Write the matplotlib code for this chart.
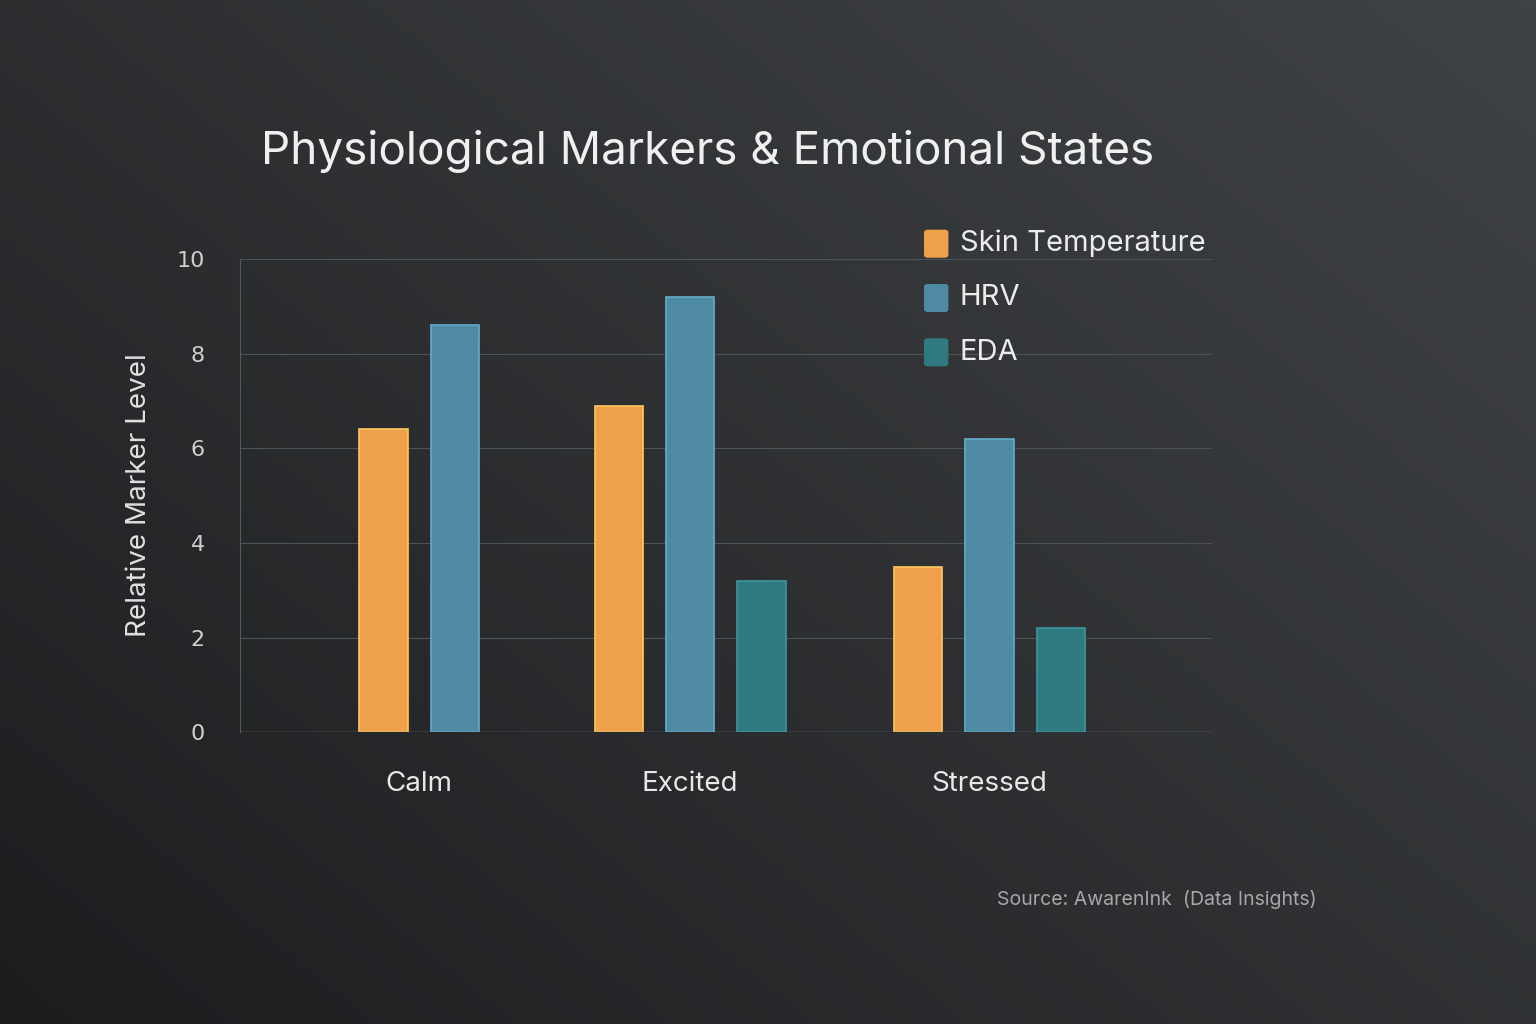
import matplotlib
matplotlib.use("Agg")
import matplotlib.pyplot as plt
import numpy as np
from matplotlib.patches import FancyBboxPatch

categories = ["Calm", "Excited", "Stressed"]
series = ["Skin Temperature", "HRV", "EDA"]
skin_temp = [6.4, 6.9, 3.5]
hrv = [8.6, 9.2, 6.2]
eda = [np.nan, 3.2, 2.2]
colors = ["#eea04a", "#4f8aa3", "#2f7a80"]

fig = plt.figure(figsize=(15.36, 10.24), dpi=100)
bg = fig.add_axes([0, 0, 1, 1], zorder=-10)
yy, xx = np.mgrid[0:1:200j, 0:1:300j]
grad = 0.55 * xx + 0.45 * yy
bg.imshow(grad, cmap=matplotlib.colors.LinearSegmentedColormap.from_list("g", ["#1c1d1f", "#404346"]),
          extent=[0, 1, 0, 1], aspect="auto", origin="lower")
bg.axis("off")

ax = fig.add_axes([0.156, 0.285, 0.633, 0.462])
ax.set_facecolor("none")
x = np.array([0, 0.95, 2.0])
width = 0.17
spacing = 0.25
data = [skin_temp, hrv, eda]
for ci in range(len(categories)):
    avail = [si for si in range(len(series)) if not np.isnan(data[si][ci])]
    n = len(avail)
    for k, si in enumerate(avail):
        pos = x[ci] + (k - (n - 1) / 2) * spacing
        ax.bar(pos, data[si][ci], width, color=colors[si], edgecolor=matplotlib.colors.to_hex(
            np.clip(np.array(matplotlib.colors.to_rgb(colors[si])) * 1.25, 0, 1)), linewidth=1.2, zorder=3)

ax.set_xlim(-0.63, 2.78)
ax.set_ylim(0, 10)
ax.set_yticks([0, 2, 4, 6, 8, 10])
ax.grid(axis="y", color="#4f5255", linewidth=0.8, zorder=0)
for s in ["top", "right", "bottom"]:
    ax.spines[s].set_visible(False)
ax.spines["left"].set_color("#55585b")
ax.axhline(0, color="#6a6d70", linewidth=1, zorder=4)
ax.set_xticks(x)
ax.set_xticklabels(categories, fontsize=20, color="#e8e8e8", fontfamily="Inter")
ax.tick_params(axis="x", length=0, pad=28)
ax.tick_params(axis="y", length=0, pad=25, labelsize=16, labelcolor="#cfcfcf")
ax.set_ylabel("Relative Marker Level", fontsize=20, color="#e0e0e0", labelpad=18, fontfamily="Inter")

fig.text(0.17, 0.84, "Physiological Markers & Emotional States", fontsize=33, color="#f0f0f0",
         fontfamily="Inter")
for i, (name, c) in enumerate(zip(series, colors)):
    y = 0.762 - i * 0.053
    fig.patches.append(FancyBboxPatch((0.604, y - 0.011), 0.011, 0.022, boxstyle="round,pad=0.002",
                                      transform=fig.transFigure, color=c))
    fig.text(0.625, y, name, fontsize=21, color="#ececec", va="center", fontfamily="Inter")
fig.text(0.857, 0.116, "Source: AwarenInk  (Data Insights)", fontsize=14, color="#a5a7a9",
         ha="right", fontfamily="Inter")
fig.savefig("out.png", dpi=100)
